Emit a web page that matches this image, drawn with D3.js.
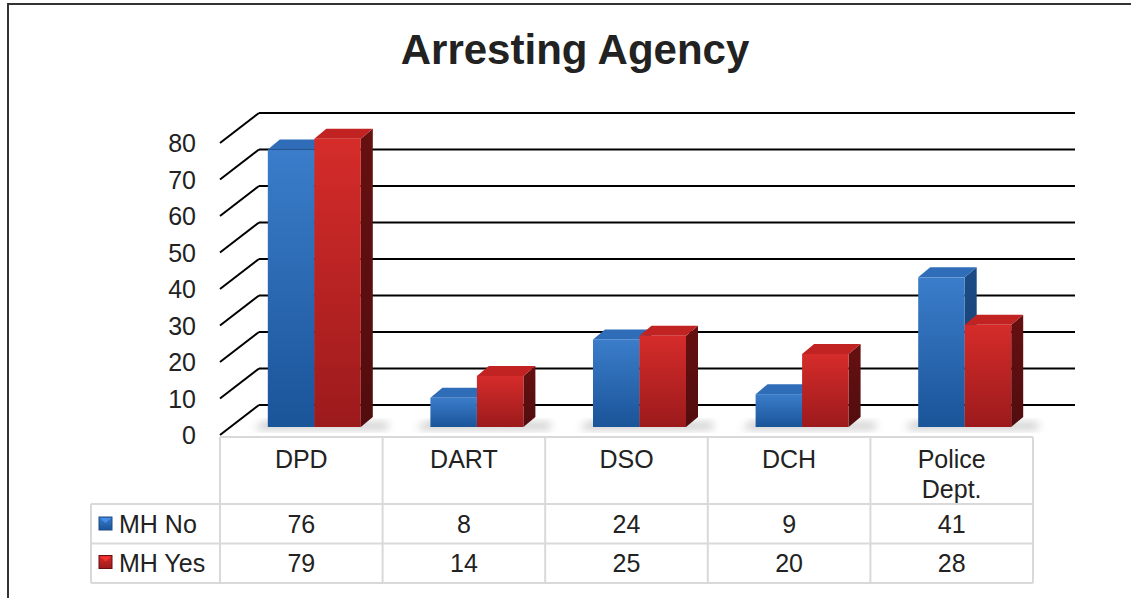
<!DOCTYPE html>
<html>
<head>
<meta charset="utf-8">
<script src="https://cdn.jsdelivr.net/npm/d3@7"></script>
<style>
  body { margin: 0; background: #fff; }
  text { font-family: "Liberation Sans", Arial, sans-serif; fill: #222; }
</style>
</head>
<body>
<div id="chart"></div>
<script>
var categories = ["DPD", "DART", "DSO", "DCH", "Police Dept."];
var seriesNames = ["MH No", "MH Yes"];
var mhNo = [76, 8, 24, 9, 41];
var mhYes = [79, 14, 25, 20, 28];
var yTicks = [0, 10, 20, 30, 40, 50, 60, 70, 80];

var width = 1131, height = 598;
var svg = d3.select("#chart").append("svg")
    .attr("width", width)
    .attr("height", height);

var defs = svg.append("defs");

// colours for the two series
var palette = {
    "MH No": { light: "#3b7dca", dark: "#1a5499", top: "#2f6db8", side: "#1c4b86" },
    "MH Yes": { light: "#d52c2a", dark: "#9c1a1c", top: "#c02322", side: "#661011" }
};

seriesNames.forEach(function(s, i){
    var g = defs.append("linearGradient")
        .attr("id", "front" + i)
        .attr("x1", 0).attr("y1", 0).attr("x2", 0).attr("y2", 1);
    g.append("stop").attr("offset", "0%").attr("stop-color", palette[s].light);
    g.append("stop").attr("offset", "100%").attr("stop-color", palette[s].dark);
    var h = defs.append("linearGradient")
        .attr("id", "side" + i)
        .attr("x1", 0).attr("y1", 0).attr("x2", 0).attr("y2", 1);
    h.append("stop").attr("offset", "0%").attr("stop-color", palette[s].side);
    h.append("stop").attr("offset", "100%").attr("stop-color", d3.color(palette[s].side).darker(0.6));
});

defs.append("filter").attr("id", "blur")
    .attr("x", "-50%").attr("y", "-50%").attr("width", "200%").attr("height", "200%")
    .append("feGaussianBlur").attr("stdDeviation", 4);

// outer frame
svg.append("rect")
    .attr("x", 8).attr("y", 4)
    .attr("width", 1140).attr("height", 620)
    .attr("fill", "none")
    .attr("stroke", "#333")
    .attr("stroke-width", 2);

// title
svg.append("text")
    .attr("x", 575).attr("y", 64)
    .attr("text-anchor", "middle")
    .style("font-size", "42px")
    .style("font-weight", "bold")
    .text("Arresting Agency");

// scales
var x = d3.scaleBand().domain(categories).range([220, 1033]);
var yFront = d3.scaleLinear().domain([0, 80]).range([435, 143]);
var yBack = d3.scaleLinear().domain([0, 80]).range([405, 113]);
var yBar = d3.scaleLinear().domain([0, 80]).range([427, 135]);
var wallDx = 39;
var barShift = 13;   // bars stand a little behind the front edge
var dep = { dx: 12, dy: -10 };
var bw = 46.5;

// back wall gridlines
svg.selectAll(".grid")
    .data(yTicks)
    .enter().append("line")
    .attr("x1", 220 + wallDx).attr("x2", 1075)
    .attr("y1", function(d){ return yBack(d); })
    .attr("y2", function(d){ return yBack(d); })
    .attr("stroke", "#000")
    .attr("stroke-width", 2);

// left wall diagonals
svg.selectAll(".diag")
    .data(yTicks)
    .enter().append("line")
    .attr("x1", 220).attr("x2", 220 + wallDx)
    .attr("y1", function(d){ return yFront(d); })
    .attr("y2", function(d){ return yBack(d); })
    .attr("stroke", "#000")
    .attr("stroke-width", 2);

// y labels
svg.selectAll(".ylab")
    .data(yTicks)
    .enter().append("text")
    .attr("x", 196)
    .attr("y", function(d){ return yFront(d) + 9; })
    .attr("text-anchor", "end")
    .style("font-size", "25px")
    .text(function(d){ return d; });

// bars
var values = [mhNo, mhYes];
var barsG = svg.append("g");

// soft floor shadows first
categories.forEach(function(c, ci){
    var left = x(c) + x.bandwidth()/2 + barShift - bw;
    var right = left + 2*bw;
    var b = yBar(0);
    barsG.append("polygon")
        .attr("points", [[left - 14, b + 2], [right + dep.dx + 14, b + 2],
            [right + dep.dx + 16, b - 4], [left - 4, b - 5]].join(" "))
        .attr("fill", "#666")
        .attr("opacity", 0.4)
        .attr("filter", "url(#blur)");
});

categories.forEach(function(c, ci){
    values.forEach(function(vals, si){
        var v = vals[ci];
        var left = x(c) + x.bandwidth()/2 + barShift - bw + si*bw;
        var right = left + bw;
        var top = yBar(v), bottom = yBar(0);
        var col = palette[seriesNames[si]];
        barsG.append("polygon")
            .attr("points", [[right, top], [right + dep.dx, top + dep.dy],
                [right + dep.dx, bottom + dep.dy], [right, bottom]].join(" "))
            .attr("fill", "url(#side" + si + ")");
        barsG.append("polygon")
            .attr("points", [[left, top], [left + dep.dx, top + dep.dy],
                [right + dep.dx, top + dep.dy], [right, top]].join(" "))
            .attr("fill", col.top);
        barsG.append("rect")
            .attr("x", left).attr("y", top)
            .attr("width", bw).attr("height", bottom - top)
            .attr("fill", "url(#front" + si + ")");
    });
});

// data table
var tableTop = 437, headBottom = 504, rowH = 39.5;
var lineCol = "#d9d9d9";
var tbl = svg.append("g");

tbl.append("line").attr("x1", 220).attr("x2", 1033)
    .attr("y1", tableTop).attr("y2", tableTop)
    .attr("stroke", lineCol).attr("stroke-width", 2);
[0, 1, 2].forEach(function(k){
    tbl.append("line").attr("x1", 91).attr("x2", 1033)
        .attr("y1", headBottom + k*rowH).attr("y2", headBottom + k*rowH)
        .attr("stroke", lineCol).attr("stroke-width", 2);
});
tbl.append("line").attr("x1", 91).attr("x2", 91)
    .attr("y1", headBottom).attr("y2", headBottom + 2*rowH)
    .attr("stroke", lineCol).attr("stroke-width", 2);
categories.concat(["end"]).forEach(function(c, i){
    var xx = 220 + i*x.bandwidth();
    tbl.append("line").attr("x1", xx).attr("x2", xx)
        .attr("y1", tableTop).attr("y2", headBottom + 2*rowH)
        .attr("stroke", lineCol).attr("stroke-width", 2);
});

// category labels
categories.forEach(function(c){
    var words = c === "Police Dept." ? ["Police", "Dept."] : [c];
    words.forEach(function(w, wi){
        tbl.append("text")
            .attr("x", x(c) + x.bandwidth()/2)
            .attr("y", 468 + wi*30)
            .attr("text-anchor", "middle")
            .style("font-size", "25px")
            .text(w);
    });
});

// value rows + legend keys
values.forEach(function(vals, si){
    var baseY = 533 + si*38.5;
    vals.forEach(function(v, ci){
        tbl.append("text")
            .attr("x", x(categories[ci]) + x.bandwidth()/2)
            .attr("y", baseY)
            .attr("text-anchor", "middle")
            .style("font-size", "25px")
            .text(v);
    });
    var ky = baseY - 16;
    tbl.append("rect")
        .attr("x", 99).attr("y", ky)
        .attr("width", 13).attr("height", 13)
        .attr("fill", "url(#front" + si + ")")
        .attr("stroke", palette[seriesNames[si]].side)
        .attr("stroke-width", 1);
    tbl.append("polygon")
        .attr("points", [[100, ky + 1], [111, ky + 1], [105.5, ky + 6]].join(" "))
        .attr("fill", d3.color(palette[seriesNames[si]].light).brighter(0.4));
    tbl.append("text")
        .attr("x", 119).attr("y", baseY)
        .style("font-size", "25px")
        .text(seriesNames[si]);
});
</script>
</body>
</html>
